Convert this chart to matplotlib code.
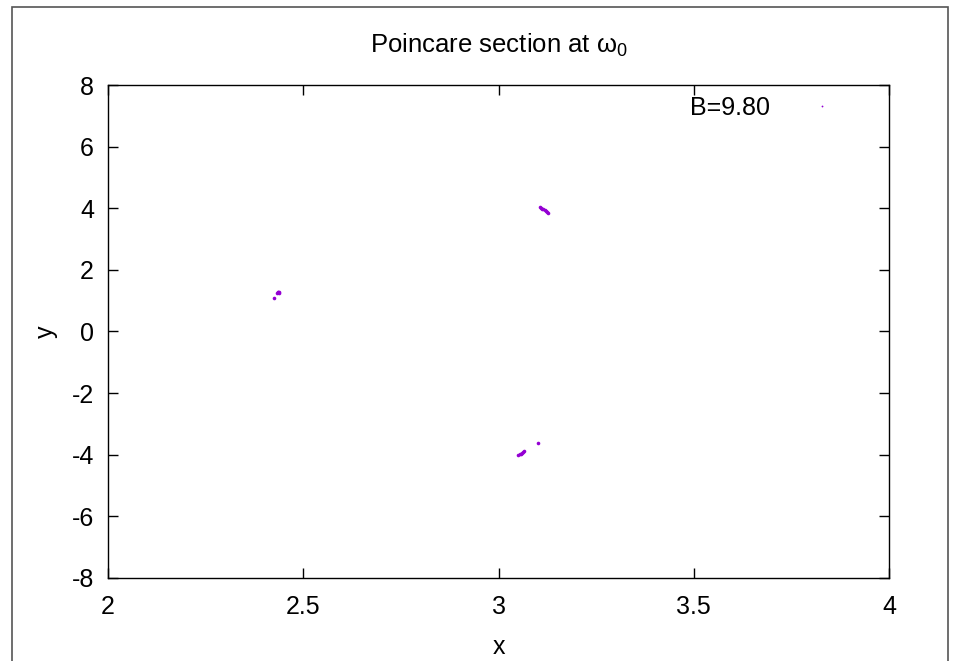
import matplotlib
matplotlib.use("Agg")
import matplotlib.pyplot as plt
from matplotlib.patches import Rectangle

plt.rcParams['font.family'] = ['Liberation Sans', 'DejaVu Sans']
plt.rcParams['mathtext.fontset'] = 'custom'
plt.rcParams['mathtext.rm'] = 'Liberation Sans'
plt.rcParams['mathtext.it'] = 'Liberation Sans'
plt.rcParams['mathtext.bf'] = 'Liberation Sans:bold'
plt.rcParams['axes.unicode_minus'] = False

# Poincare section points (x, y)
x_pts = [2.434, 2.436, 2.438, 2.435, 2.437, 2.426,
         3.106, 3.109, 3.112, 3.115, 3.118, 3.121, 3.124, 3.127,
         3.051, 3.054, 3.057, 3.060, 3.063, 3.065, 3.100]
y_pts = [1.24, 1.27, 1.29, 1.28, 1.25, 1.09,
         4.03, 4.01, 3.99, 3.96, 3.93, 3.90, 3.87, 3.85,
         -4.01, -3.99, -3.96, -3.94, -3.91, -3.89, -3.61]
label = "B=9.80"

x_ticks = [2, 2.5, 3, 3.5, 4]
x_ticklabels = ["2", "2.5", "3", "3.5", "4"]
y_ticks = [-8, -6, -4, -2, 0, 2, 4, 6, 8]

purple = '#9400d3'

fig = plt.figure(figsize=(9.55, 6.61), dpi=100)
ax = fig.add_axes([0.1131, 0.1256, 0.8178, 0.7458])

ax.plot(x_pts, y_pts, linestyle='none', marker='o', markersize=2.6,
        markeredgewidth=0, color=purple, label=label)

ax.set_xlim(2, 4)
ax.set_ylim(-8, 8)
ax.set_xticks(x_ticks)
ax.set_xticklabels(x_ticklabels)
ax.set_yticks(y_ticks)
ax.tick_params(direction='in', top=True, right=True, length=7, width=1,
               labelsize=18)
ax.tick_params(axis='x', pad=12)
ax.tick_params(axis='y', pad=10)
for s in ax.spines.values():
    s.set_linewidth(1)

ax.set_title(r'Poincare section at $\omega_0$', fontsize=18.5, pad=23)
ax.set_xlabel('x', fontsize=18, labelpad=12)
ax.set_ylabel('y', fontsize=18, labelpad=10)

leg = ax.legend(loc='upper right', bbox_to_anchor=(0.9654, 1.008),
                frameon=False, markerfirst=False,
                fontsize=18, handlelength=2.0, handletextpad=1.08,
                borderaxespad=0.2, markerscale=0.5)

# outer frame around the image
fig.patches.append(Rectangle((0.0126, -0.02), 0.9801, 1.0094,
                             transform=fig.transFigure, fill=False,
                             edgecolor='#555555', linewidth=1.2))

fig.savefig('out.png', dpi=100)
